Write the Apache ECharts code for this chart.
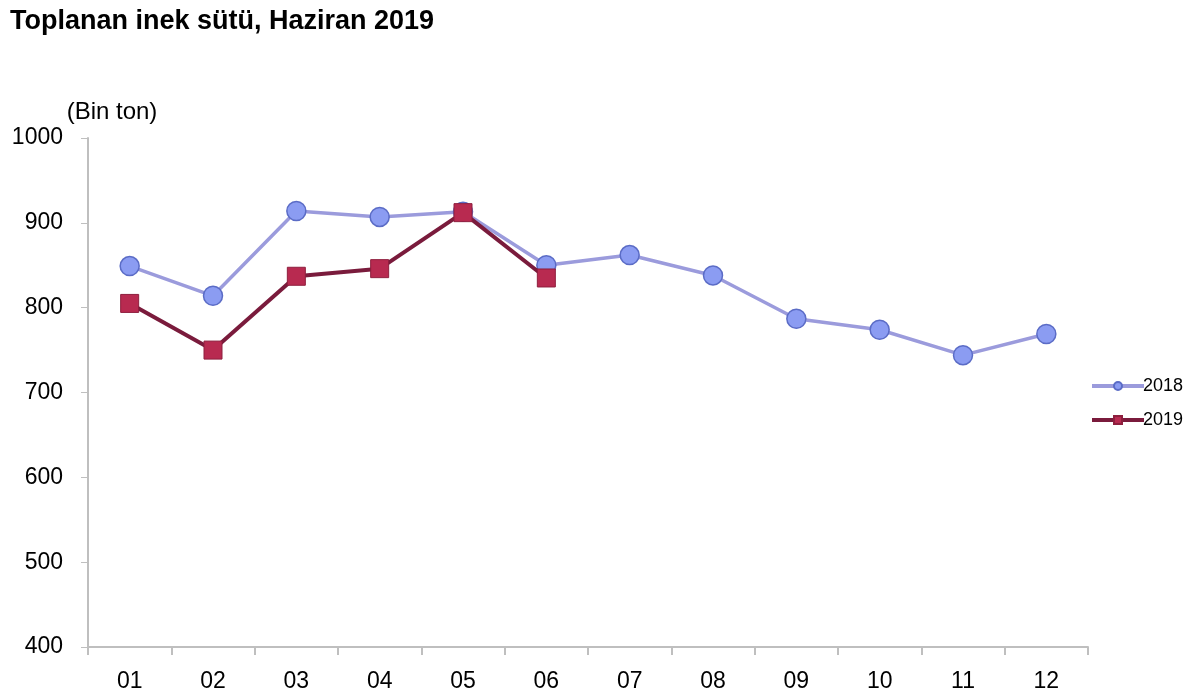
<!DOCTYPE html>
<html><head><meta charset="utf-8">
<script src="https://cdn.jsdelivr.net/npm/echarts@6/dist/echarts.min.js"></script>
<style>html,body{margin:0;padding:0;background:#fff}#c{width:1200px;height:698px}</style>
</head><body><div id="c"></div>
<script>
const categories = ['01','02','03','04','05','06','07','08','09','10','11','12'];
const values2018 = [849, 814, 914, 907, 913, 850, 862, 838, 787, 774, 744, 769];
const values2019 = [805, 750, 837, 846, 912, 835];
const yTicks = [400, 500, 600, 700, 800, 900, 1000];

const chart = echarts.init(document.getElementById('c'));
const font = '"Liberation Sans", Arial, sans-serif';
chart.setOption({
  animation: false,
  backgroundColor: '#fff',
  title: {
    text: 'Toplanan inek sütü, Haziran 2019',
    left: 5, top: 3,
    textStyle: { fontFamily: font, fontSize: 27, fontWeight: 'bold', color: '#000' }
  },
  legend: {
    orient: 'vertical', left: 1085, top: 372,
    itemWidth: 52, itemHeight: 10, itemGap: 16,
    lineStyle: { width: 4 },
    textStyle: { fontFamily: font, fontSize: 18, color: '#000', padding: [0,0,0,-6] },
    data: ['2018', '2019']
  },
  grid: { left: 88, right: 112, top: 138, bottom: 51, containLabel: false },
  xAxis: {
    type: 'category', data: categories, boundaryGap: true,
    axisLine: { lineStyle: { color: '#bfbfbf', width: 2 } },
    axisTick: { show: true, length: 8, inside: false, alignWithLabel: false, lineStyle: { color: '#bfbfbf', width: 2 } },
    axisLabel: { margin: 23, fontFamily: font, fontSize: 23, color: '#000' }
  },
  yAxis: {
    type: 'value', min: yTicks[0], max: yTicks[yTicks.length-1], interval: 100,
    name: '(Bin ton)', nameLocation: 'end', nameGap: 14,
    nameTextStyle: { fontFamily: font, fontSize: 24, color: '#000', align: 'center', padding: [0, 0, 0, 48] },
    axisLine: { show: true, lineStyle: { color: '#bfbfbf', width: 2 } },
    axisTick: { show: true, length: 7, lineStyle: { color: '#bfbfbf', width: 1 } },
    splitLine: { show: false },
    axisLabel: { margin: 25, fontFamily: font, fontSize: 23, color: '#000', formatter: v => String(v) }
  },
  series: [
    {
      name: '2018', type: 'line', data: values2018,
      symbol: 'circle', symbolSize: 19,
      lineStyle: { color: '#9b9bdc', width: 3.5 },
      itemStyle: { color: '#8b9cf2', borderColor: '#5b6cc6', borderWidth: 1.5 },
      z: 2
    },
    {
      name: '2019', type: 'line', data: values2019,
      symbol: 'rect', symbolSize: 18,
      lineStyle: { color: '#7a1b3c', width: 4 },
      itemStyle: { color: '#b82a50', borderColor: '#8e1f3e', borderWidth: 1 },
      z: 3
    }
  ]
});
</script></body></html>
